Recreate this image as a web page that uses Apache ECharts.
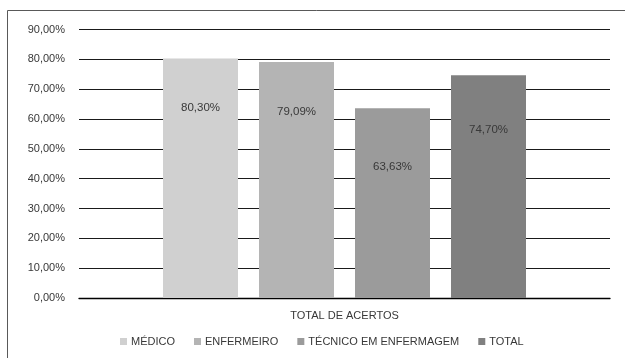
<!DOCTYPE html>
<html>
<head>
<meta charset="utf-8">
<script src="https://cdn.jsdelivr.net/npm/echarts@6/dist/echarts.min.js"></script>
<style>
  html, body { margin: 0; padding: 0; background: #fff; }
  #chart { width: 625px; height: 358px; }
</style>
</head>
<body>
<div id="chart"></div>
<script>
// Single category, one bar per professional group
const categories = ['TOTAL DE ACERTOS'];
const seriesNames = ['MÉDICO', 'ENFERMEIRO', 'TÉCNICO EM ENFERMAGEM', 'TOTAL'];
const medico = [80.30];
const enfermeiro = [79.09];
const tecnico = [63.63];
const total = [74.70];
const yTicks = [0, 10, 20, 30, 40, 50, 60, 70, 80, 90];

const seriesValues = [medico, enfermeiro, tecnico, total];
const colors = ['#d0d0d0', '#b4b4b4', '#9b9b9b', '#808080'];
const labelDistances = [43, 44, 53, 49];
const font = 'Liberation Sans, Arial, sans-serif';
const textColor = '#383838';
const fmt = v => v.toFixed(2).replace('.', ',') + '%';

const chart = echarts.init(document.getElementById('chart'), null, { renderer: 'canvas' });

chart.setOption({
  animation: false,
  backgroundColor: '#ffffff',
  textStyle: { fontFamily: font },
  graphic: [{
    type: 'rect',
    shape: { x: 7.5, y: 10.5, width: 700, height: 400 },
    style: { fill: 'none', stroke: '#595959', lineWidth: 1 },
    silent: true
  }],
  grid: { left: 79, right: 15, top: 29.5, bottom: 60, containLabel: false },
  legend: {
    data: seriesNames,
    bottom: 6,
    left: 115,
    icon: 'rect',
    itemWidth: 7,
    itemHeight: 7,
    itemGap: 19,
    textStyle: { fontFamily: font, fontSize: 11, color: textColor, padding: [0, 0, 0, -1] }
  },
  xAxis: {
    type: 'category',
    data: categories,
    axisLine: { show: true, lineStyle: { color: '#000', width: 1.3 } },
    axisTick: { show: false },
    axisLabel: { fontFamily: font, fontSize: 11, color: textColor, margin: 12 }
  },
  yAxis: {
    type: 'value',
    min: yTicks[0],
    max: yTicks[yTicks.length - 1],
    interval: 10,
    axisLine: { show: false },
    axisTick: { show: false },
    axisLabel: {
      fontFamily: font, fontSize: 11, color: textColor, margin: 14,
      formatter: v => fmt(v)
    },
    splitLine: { lineStyle: { color: '#1a1a1a', width: 1.2 } }
  },
  series: seriesNames.map((name, i) => ({
    name: name,
    type: 'bar',
    data: seriesValues[i],
    barWidth: 75,
    barGap: '28%',
    itemStyle: { color: colors[i] },
    label: {
      show: true,
      position: 'insideTop',
      distance: labelDistances[i],
      fontFamily: font,
      fontSize: 11.5,
      color: textColor,
      formatter: p => fmt(p.value)
    }
  }))
});
</script>
</body>
</html>
